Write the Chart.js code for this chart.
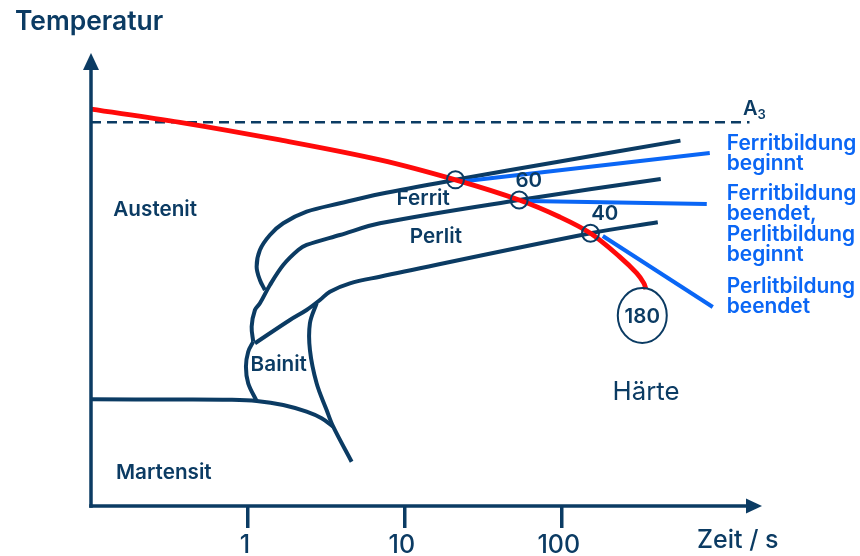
<!DOCTYPE html>
<html>
<head>
<meta charset="utf-8">
<title>ZTU-Schaubild</title>
<script src="https://cdn.jsdelivr.net/npm/chart.js@4.4.1/dist/chart.umd.min.js"></script>
<style>
  html, body { margin: 0; padding: 0; background: #fff; }
  canvas { display: block; }
</style>
</head>
<body>
<canvas id="cct" width="860" height="556"></canvas>
<script>
// Time axis (log scale, seconds)
const xTicks = [1, 10, 100];
const xTickLabels = ['1', '10', '100'];

// Cooling curve (red)
const coolingTime = [0.1, 0.369, 1.6, 6.93, 21.0, 53.5, 97.1, 152.3, 234, 300, 333, 343];
const coolingTemp = [876, 847, 808, 764, 720, 675.5, 638, 602, 550, 514, 492, 479];

// Ferrite start curve
const ferriteStartTime = [570, 97.1, 21.0, 6.93, 3.855, 2.365, 1.678, 1.381, 1.192, 1.136, 1.192, 1.283];
const ferriteStartTemp = [806.6, 760.5, 720, 688.7, 668.2, 649.7, 624.1, 598.2, 565.1, 528.3, 498.9, 476.8];

// Ferrite end / pearlite start curve
const pearliteStartTime = [427, 53.5, 6.93, 3.855, 2.365, 2.091, 1.678, 1.381, 1.192, 1.108, 1.056, 1.081];
const pearliteStartTemp = [722, 675.5, 624.1, 598.2, 576.2, 565.1, 532, 487.9, 447.5, 432.7, 395.8, 362.7];

// Pearlite end curve
const pearliteEndTime = [408.8, 152.3, 6.93, 4.465, 3.329, 2.875, 2.365, 1.852, 1.108];
const pearliteEndTemp = [626.3, 602, 506.2, 491.6, 473.1, 454.7, 432.7, 410.6, 359.2];

// Bainite start and end curves
const bainiteStartTime = [1.081, 1.004, 0.971, 1.004, 1.136];
const bainiteStartTemp = [362.7, 340.6, 307.5, 270.9, 232];
const bainiteEndTime = [2.739, 2.483, 2.483, 2.739, 3.172, 3.494, 4.578];
const bainiteEndTemp = [447.5, 403.3, 344.4, 270.9, 211.9, 175.1, 97.8];

// Martensite start line
const msTime = [0.1, 0.369, 0.768, 1.136, 1.678, 2.365, 2.947, 3.494];
const msTemp = [235.5, 235.1, 234.4, 231.8, 223, 208.2, 193.6, 175.1];

// A3 temperature
const a3Time = [0.1, 1570];
const a3Temp = [847, 847];

// Transformation points on the cooling curve and hardness values
const markerTime = [21.0, 53.5, 152.3];
const markerTemp = [720, 675.5, 602];
const hardnessLabels = ['60', '40', '180'];
const hardnessTime = [61.6, 187.9, 325.6];
const hardnessTemp = [719.6, 647.5, 420.5];

// Pointer lines to the annotations
const pointer1Time = [22.4, 876.4], pointer1Temp = [715.9, 779.2];
const pointer2Time = [60.7, 838.8], pointer2Temp = [673.3, 666.7];
const pointer3Time = [182.5, 915.8], pointer3Temp = [596, 439.3];

// Phase region names
const regionNames = ['Austenit', 'Ferrit', 'Perlit', 'Bainit', 'Martensit'];
const regionTime = [0.1387, 8.852, 10.76, 1.040, 0.1443];
const regionTemp = [640.2, 664.5, 581.2, 298, 59.6];

// Annotation texts (blue)
const noteLines = [
  ['Ferritbildung', 'beginnt'],
  ['Ferritbildung', 'beendet,', 'Perlitbildung', 'beginnt'],
  ['Perlitbildung', 'beendet']
];
const noteTime = [1125, 1125, 1125];
const noteTemp = [785.9, 675.5, 470.2];

const NAVY = '#0b3b63';
const RED = '#ff0a0a';
const BLUE = '#0a66f5';
const FONT = 'Inter, "Noto Sans", sans-serif';

const pts = (ts, Ts) => ts.map((t, i) => ({ x: t, y: Ts[i] }));
const curve = (label, data, color, width, extra = {}) => Object.assign({
  label, data, showLine: true, borderColor: color, backgroundColor: color,
  borderWidth: width, pointRadius: 0, pointHoverRadius: 0, tension: 0.35,
  clip: false, borderCapStyle: 'butt', borderJoinStyle: 'round'
}, extra);

const decor = {
  id: 'cctDecor',
  afterDatasetsDraw(chart) {
    const { ctx, chartArea: a, scales: { x, y } } = chart;
    const px = t => x.getPixelForValue(t);
    const py = T => y.getPixelForValue(T);
    ctx.save();

    // axes with arrow heads
    ctx.strokeStyle = NAVY;
    ctx.fillStyle = NAVY;
    ctx.lineWidth = 3.5;
    const x0 = a.left, y0 = a.bottom, yTop = a.top, xEnd = a.right - 4;
    ctx.beginPath();
    ctx.moveTo(x0, y0 + 1.75);
    ctx.lineTo(x0, yTop + 16);
    ctx.stroke();
    ctx.beginPath();
    ctx.moveTo(x0, yTop);
    ctx.lineTo(x0 - 8, yTop + 17);
    ctx.lineTo(x0 + 8, yTop + 17);
    ctx.closePath();
    ctx.fill();
    ctx.beginPath();
    ctx.moveTo(x0 - 1.75, y0);
    ctx.lineTo(xEnd - 15, y0);
    ctx.stroke();
    ctx.beginPath();
    ctx.moveTo(xEnd, y0);
    ctx.lineTo(xEnd - 16, y0 - 7.5);
    ctx.lineTo(xEnd - 16, y0 + 7.5);
    ctx.closePath();
    ctx.fill();

    // axis titles
    ctx.textAlign = 'left';
    ctx.textBaseline = 'alphabetic';
    ctx.font = `600 26.4px ${FONT}`;
    ctx.fillText('Temperatur', 15, 30);
    ctx.font = `500 25px ${FONT}`;
    ctx.fillText('Zeit / s', 697, 548);

    // region names
    ctx.font = `600 20.7px ${FONT}`;
    regionNames.forEach((n, i) => ctx.fillText(n, px(regionTime[i]), py(regionTemp[i])));

    // Haerte
    ctx.font = `400 25.8px ${FONT}`;
    ctx.fillText('Härte', px(210.3), py(234));

    // A3 label
    const ax = px(1428), ay = py(863.1);
    ctx.font = `600 20px ${FONT}`;
    ctx.fillText('A', ax, ay);
    const aw = ctx.measureText('A').width;
    ctx.font = `600 13px ${FONT}`;
    ctx.fillText('3', ax + aw, ay + 4);

    // hardness values
    ctx.textAlign = 'center';
    ctx.textBaseline = 'middle';
    hardnessLabels.forEach((h, i) => {
      const hx = px(hardnessTime[i]), hy = py(hardnessTemp[i]);
      ctx.font = `600 20.5px ${FONT}`;
      ctx.fillText(h, hx, hy + 1);
      if (i === hardnessLabels.length - 1) {
        ctx.lineWidth = 2;
        ctx.beginPath();
        ctx.ellipse(hx, hy, 24.5, 27.5, 0, 0, Math.PI * 2);
        ctx.stroke();
      }
    });

    // annotations
    ctx.textAlign = 'left';
    ctx.textBaseline = 'alphabetic';
    ctx.fillStyle = BLUE;
    ctx.font = `600 20.9px ${FONT}`;
    noteLines.forEach((lines, i) => {
      const nx = px(noteTime[i]), ny = py(noteTemp[i]);
      lines.forEach((l, j) => ctx.fillText(l, nx, ny + j * 20.5));
    });

    ctx.restore();
  }
};

new Chart(document.getElementById('cct'), {
  type: 'scatter',
  data: {
    datasets: [
      {
        label: 'Umwandlungspunkte', data: pts(markerTime, markerTemp), showLine: false,
        pointRadius: 8.5, pointHoverRadius: 8.5, pointStyle: 'circle', borderColor: NAVY,
        backgroundColor: 'rgba(0,0,0,0)', pointBorderWidth: 2, clip: false
      },
      curve('Abkühlkurve', pts(coolingTime, coolingTemp), RED, 4.8),
      curve('Hinweis 1', pts(pointer1Time, pointer1Temp), BLUE, 4, { tension: 0 }),
      curve('Hinweis 2', pts(pointer2Time, pointer2Temp), BLUE, 4, { tension: 0 }),
      curve('Hinweis 3', pts(pointer3Time, pointer3Temp), BLUE, 4, { tension: 0 }),
      curve('Ferritbeginn', pts(ferriteStartTime, ferriteStartTemp), NAVY, 4),
      curve('Perlitbeginn', pts(pearliteStartTime, pearliteStartTemp), NAVY, 4),
      curve('Perlitende', pts(pearliteEndTime, pearliteEndTemp), NAVY, 4),
      curve('Bainitbeginn', pts(bainiteStartTime, bainiteStartTemp), NAVY, 4),
      curve('Bainitende', pts(bainiteEndTime, bainiteEndTemp), NAVY, 4),
      curve('Ms', pts(msTime, msTemp), NAVY, 4),
      curve('A3', pts(a3Time, a3Temp), NAVY, 2.5, { tension: 0, borderDash: [10, 6] })
    ]
  },
  options: {
    responsive: false,
    animation: false,
    devicePixelRatio: 1,
    layout: { padding: { left: 91, right: 94, top: 53, bottom: 0 } },
    plugins: { legend: { display: false }, tooltip: { enabled: false } },
    events: [],
    scales: {
      x: {
        type: 'logarithmic',
        min: 0.1,
        max: 2000,
        afterBuildTicks: s => { s.ticks = xTicks.map(v => ({ value: v })); },
        afterFit: s => { s.height = 50; },
        ticks: {
          autoSkip: false,
          maxRotation: 0,
          padding: 2,
          labelOffset: -3,
          color: NAVY,
          font: { family: FONT, size: 25, weight: '500' },
          callback: (v, i) => xTickLabels[i]
        },
        grid: {
          drawOnChartArea: false,
          drawTicks: true,
          tickLength: 22,
          lineWidth: 3.5,
          color: NAVY
        },
        border: { display: false }
      },
      y: { type: 'linear', min: 0, max: 1000, display: false }
    }
  },
  plugins: [decor]
});
</script>
</body>
</html>
